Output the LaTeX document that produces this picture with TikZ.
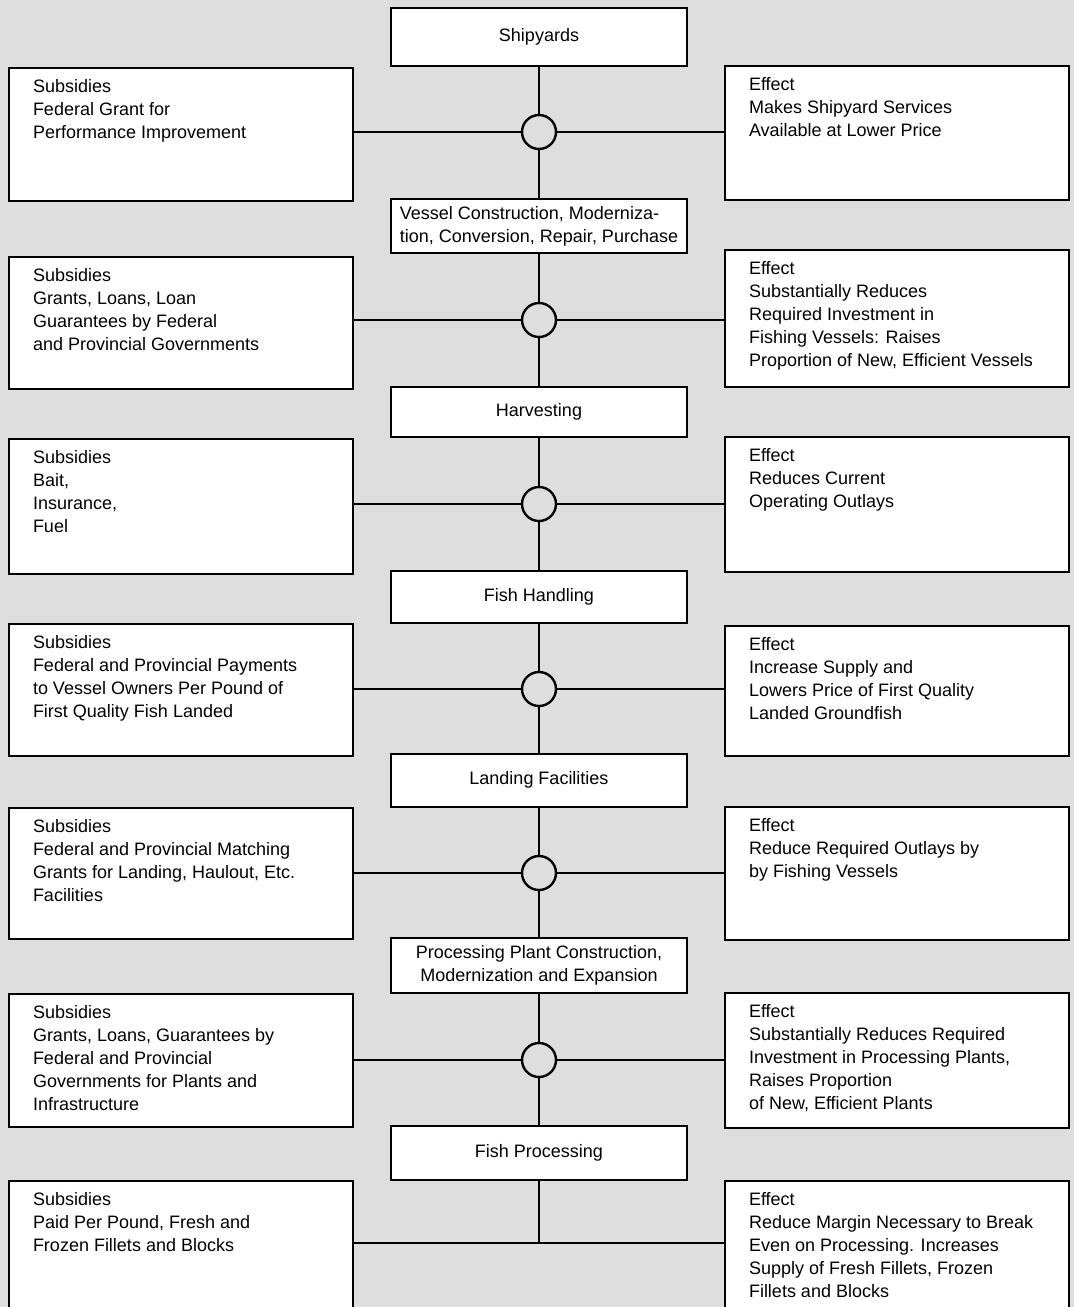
\documentclass[tikz,border=0pt]{standalone}
\usepackage{fontspec}
\setmainfont{Liberation Sans}

\definecolor{paper}{gray}{0.87}
\tikzstyle{stageBox}=[draw=black,line width=1pt,fill=white,minimum width=148pt,minimum height=27pt,inner sep=3pt,align=center,font=\fontsize{9pt}{11.5pt}\selectfont]
\tikzstyle{sideBox}=[draw=black,line width=1pt,fill=white,anchor=north west,inner xsep=12pt,inner ysep=4.4pt,font=\fontsize{9pt}{11.5pt}\selectfont]
\tikzstyle{junction}=[shape=circle,draw=black,line width=1.2pt,minimum size=17pt,inner sep=0pt]
\tikzstyle{link}=[line width=1pt]

\newcommand{\boxlines}[2]{\parbox[t][\dimexpr#1pt-8.8pt\relax][t]{148pt}{\begin{tabular}[t]{@{}l@{}}#2\end{tabular}}}

\begin{document}
\begin{tikzpicture}[x=0.5pt,y=-0.5pt]
        \useasboundingbox (0,0) rectangle (1074,1307);
        \clip (0,0) rectangle (1074,1307);
        \fill[paper] (0,0) rectangle (1074,1307);

        % stages down the middle
        \node[stageBox,minimum height=29pt] (st1) at (539,37) {Shipyards};
        \node[stageBox,align=left] (st2) at (539,226) {Vessel Construction, Moderniza-\\tion, Conversion, Repair, Purchase};
        \node[stageBox,minimum height=25pt] (st3) at (539,412) {Harvesting};
        \node[stageBox,minimum height=26pt] (st4) at (539,597) {Fish Handling};
        \node[stageBox,minimum height=26.5pt] (st5) at (539,780) {Landing Facilities};
        \node[stageBox,minimum height=27.5pt] (st6) at (539,965) {Processing Plant Construction,\\Modernization and Expansion};
        \node[stageBox] (st7) at (539,1153) {Fish Processing};

        % subsidies
        \node[sideBox] (sub1) at (8,67) {\boxlines{66.5}{Subsidies\\Federal Grant for\\Performance Improvement}};
        \node[sideBox] (sub2) at (8,256) {\boxlines{66}{Subsidies\\Grants, Loans, Loan\\Guarantees by Federal\\and Provincial Governments}};
        \node[sideBox] (sub3) at (8,438) {\boxlines{67.5}{Subsidies\\Bait,\\Insurance,\\Fuel}};
        \node[sideBox] (sub4) at (8,623) {\boxlines{66}{Subsidies\\Federal and Provincial Payments\\to Vessel Owners Per Pound of\\First Quality Fish Landed}};
        \node[sideBox] (sub5) at (8,807) {\boxlines{65.5}{Subsidies\\Federal and Provincial Matching\\Grants for Landing, Haulout, Etc.\\Facilities}};
        \node[sideBox] (sub6) at (8,993) {\boxlines{66.5}{Subsidies\\Grants, Loans, Guarantees by\\Federal and Provincial\\Governments for Plants and\\Infrastructure}};
        \node[sideBox] (sub7) at (8,1180) {\boxlines{75}{Subsidies\\Paid Per Pound, Fresh and\\Frozen Fillets and Blocks}};

        % effects
        \node[sideBox] (eff1) at (724,65) {\boxlines{67}{Effect\\Makes Shipyard Services\\Available at Lower Price}};
        \node[sideBox] (eff2) at (724,249) {\boxlines{68.5}{Effect\\Substantially Reduces\\Required Investment in\\Fishing Vessels: Raises\\Proportion of New, Efficient Vessels}};
        \node[sideBox] (eff3) at (724,436) {\boxlines{67.5}{Effect\\Reduces Current\\Operating Outlays}};
        \node[sideBox] (eff4) at (724,625) {\boxlines{65}{Effect\\Increase Supply and\\Lowers Price of First Quality\\Landed Groundfish}};
        \node[sideBox] (eff5) at (724,806) {\boxlines{66.5}{Effect\\Reduce Required Outlays by\\by Fishing Vessels}};
        \node[sideBox] (eff6) at (724,992) {\boxlines{67.5}{Effect\\Substantially Reduces Required\\Investment in Processing Plants,\\Raises Proportion\\of New, Efficient Plants}};
        \node[sideBox] (eff7) at (724,1180) {\boxlines{75}{Effect\\Reduce Margin Necessary to Break\\Even on Processing. Increases\\Supply of Fresh Fillets, Frozen\\Fillets and Blocks}};

        % junctions
        \node[junction] (j1) at (539,132) {};
        \node[junction] (j2) at (539,320) {};
        \node[junction] (j3) at (539,504) {};
        \node[junction] (j4) at (539,689) {};
        \node[junction] (j5) at (539,873) {};
        \node[junction] (j6) at (539,1060) {};
        \coordinate (j7) at (539,1243);

        % links
        \draw [link] (st1) to (j1);
        \draw [link] (j1) to (st2);
        \draw [link] (st2) to (j2);
        \draw [link] (j2) to (st3);
        \draw [link] (st3) to (j3);
        \draw [link] (j3) to (st4);
        \draw [link] (st4) to (j4);
        \draw [link] (j4) to (st5);
        \draw [link] (st5) to (j5);
        \draw [link] (j5) to (st6);
        \draw [link] (st6) to (j6);
        \draw [link] (j6) to (st7);
        \draw [link] (st7) to (j7);

        \draw [link] (sub1.east |- j1) -- (j1) -- (eff1.west |- j1);
        \draw [link] (sub2.east |- j2) -- (j2) -- (eff2.west |- j2);
        \draw [link] (sub3.east |- j3) -- (j3) -- (eff3.west |- j3);
        \draw [link] (sub4.east |- j4) -- (j4) -- (eff4.west |- j4);
        \draw [link] (sub5.east |- j5) -- (j5) -- (eff5.west |- j5);
        \draw [link] (sub6.east |- j6) -- (j6) -- (eff6.west |- j6);
        \draw [link] (sub7.east |- j7) -- (eff7.west |- j7);
\end{tikzpicture}
\end{document}
